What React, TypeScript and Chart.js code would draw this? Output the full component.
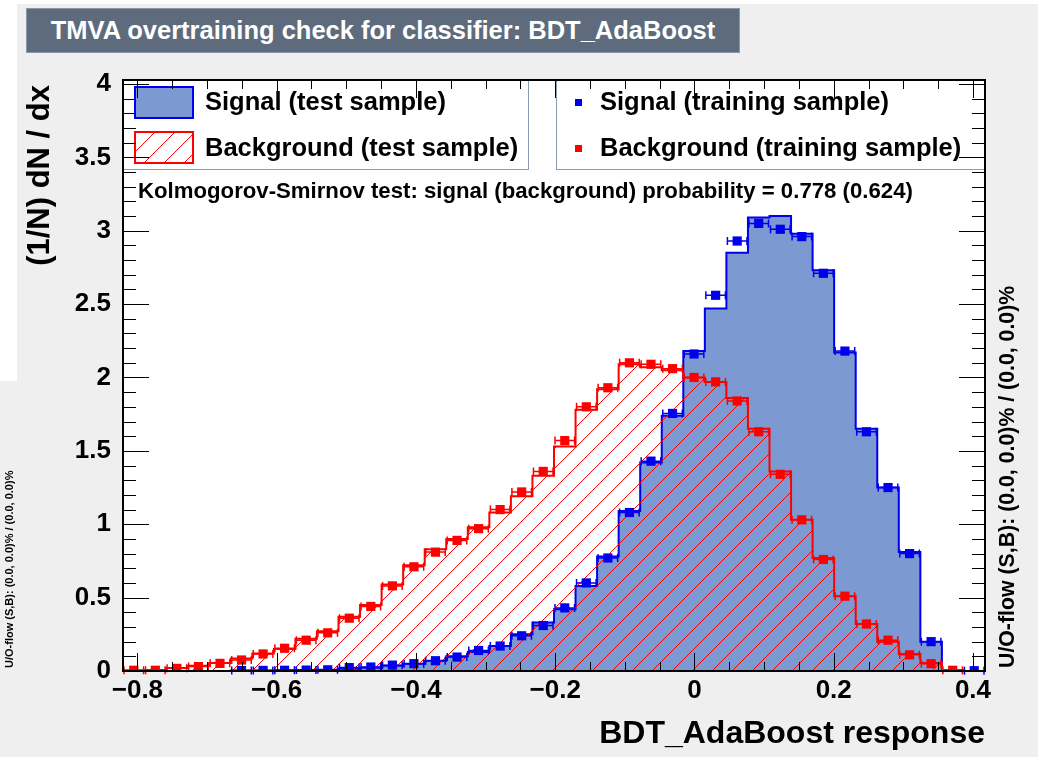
import React, { useEffect, useRef } from "react";
import { Chart, registerables } from "chart.js";

Chart.register(...registerables);

// Histogram axis definition (40 bins)
const X_MIN = -0.8207;
const X_MAX = 0.4173;
const N_BINS = 40;
const Y_MIN = 0;
const Y_MAX = 4.027;

const X_TICKS = [-0.8, -0.6, -0.4, -0.2, 0, 0.2, 0.4];
const Y_TICKS = [0, 0.5, 1, 1.5, 2, 2.5, 3, 3.5, 4];

// Signal (test sample) – filled histogram
const signalTest = [
  0, 0, 0, 0, 0, 0.003, 0.004, 0.005, 0.007, 0.009,
  0.015, 0.022, 0.035, 0.05, 0.07, 0.1, 0.13, 0.17, 0.25, 0.33,
  0.42, 0.58, 0.78, 1.09, 1.42, 1.74, 2.18, 2.47, 2.85, 3.09,
  3.1, 2.98, 2.73, 2.17, 1.65, 1.25, 0.81, 0.2, 0, 0,
];

// Background (test sample) – hatched histogram
const backgroundTest = [
  0.004, 0.006, 0.02, 0.035, 0.055, 0.085, 0.12, 0.15, 0.22, 0.27,
  0.37, 0.45, 0.59, 0.72, 0.83, 0.9, 0.98, 1.08, 1.19, 1.33,
  1.53, 1.78, 1.92, 2.09, 2.07, 2.05, 2.0, 1.97, 1.86, 1.65,
  1.36, 1.03, 0.77, 0.51, 0.32, 0.2, 0.115, 0.055, 0.006, 0,
];

// Signal (training sample) – points
const signalTrain: (number | null)[] = [
  null, null, null, null, null, 0.003, 0.004, 0.005, 0.006, 0.008,
  0.023, 0.027, 0.04, 0.05, 0.07, 0.095, 0.14, 0.17, 0.24, 0.31,
  0.43, 0.6, 0.77, 1.08, 1.43, 1.755, 2.16, 2.56, 2.93, 3.05,
  3.01, 2.96, 2.71, 2.18, 1.63, 1.25, 0.8, 0.2, null, 0.002,
];

// Background (training sample) – points
const backgroundTrain: (number | null)[] = [
  0.005, 0.005, 0.018, 0.03, 0.052, 0.075, 0.116, 0.155, 0.21, 0.26,
  0.36, 0.44, 0.58, 0.71, 0.81, 0.89, 0.97, 1.1, 1.22, 1.36,
  1.57, 1.8, 1.93, 2.1, 2.09, 2.06, 2.0, 1.97, 1.84, 1.63,
  1.34, 1.03, 0.76, 0.51, 0.32, 0.21, 0.11, 0.05, 0.005, null,
];

const SIG_FILL = "#7d99d1";
const SIG_LINE = "#0000ee";
const BKG_LINE = "#ff0000";
const FONT = "'Liberation Sans', Arial, Helvetica, sans-serif";
const HATCH_STEP = 20;

const edge = (i: number) => X_MIN + ((X_MAX - X_MIN) * i) / N_BINS;
const center = (i: number) => X_MIN + ((X_MAX - X_MIN) * (i + 0.5)) / N_BINS;

function stepPoints(vals: number[]) {
  const pts: { x: number; y: number }[] = [{ x: edge(0), y: 0 }];
  vals.forEach((v, i) => {
    pts.push({ x: edge(i), y: v });
    pts.push({ x: edge(i + 1), y: v });
  });
  pts.push({ x: edge(N_BINS), y: 0 });
  return pts;
}

function markerPoints(vals: (number | null)[]) {
  const pts: { x: number; y: number }[] = [];
  vals.forEach((v, i) => {
    if (v !== null) pts.push({ x: center(i), y: v });
  });
  return pts;
}

function hatchLines(ctx: CanvasRenderingContext2D, l: number, t: number, r: number, b: number) {
  const h = b - t;
  ctx.save();
  ctx.strokeStyle = BKG_LINE;
  ctx.lineWidth = 1;
  ctx.beginPath();
  for (let k = -h - HATCH_STEP; k <= r - l + HATCH_STEP; k += HATCH_STEP) {
    ctx.moveTo(l + k, b);
    ctx.lineTo(l + k + h, t);
  }
  ctx.stroke();
  ctx.restore();
}

const fmt = (v: number) => {
  if (Math.abs(v) < 1e-9) return "0";
  const s = String(Math.round(Math.abs(v) * 100) / 100);
  return (v < 0 ? "\u2212" : "") + s;
};

export default function App() {
  const ref = useRef<HTMLCanvasElement | null>(null);

  useEffect(() => {
    const canvas = ref.current;
    if (!canvas) return;

    const decor = {
      id: "rootDecor",
      beforeDraw(chart: any) {
        const { ctx, chartArea: a } = chart;
        ctx.save();
        ctx.fillStyle = "#ffffff";
        ctx.fillRect(a.left, a.top, a.right - a.left, a.bottom - a.top);
        ctx.restore();
      },
      beforeDatasetDraw(chart: any, args: any) {
        // hatch fill for background (test sample), drawn just before its outline
        if (args.index !== 1) return;
        const { ctx, chartArea: a, scales } = chart;
        const xs = scales.x;
        const ys = scales.y;
        const pts = stepPoints(backgroundTest);
        ctx.save();
        ctx.beginPath();
        ctx.rect(a.left, a.top, a.right - a.left, a.bottom - a.top);
        ctx.clip();
        ctx.beginPath();
        pts.forEach((p, i) => {
          const px = xs.getPixelForValue(p.x);
          const py = ys.getPixelForValue(p.y);
          if (i === 0) ctx.moveTo(px, py);
          else ctx.lineTo(px, py);
        });
        ctx.closePath();
        ctx.clip();
        hatchLines(ctx, a.left, a.top, a.right, a.bottom);
        ctx.restore();
      },
      afterDatasetsDraw(chart: any) {
        const { ctx, chartArea: a, scales } = chart;
        const xs = scales.x;
        const ys = scales.y;
        // error bars for training samples
        const drawErr = (vals: (number | null)[], col: string) => {
          ctx.save();
          ctx.strokeStyle = col;
          ctx.lineWidth = 1.5;
          vals.forEach((v, i) => {
            if (v === null) return;
            const x0 = xs.getPixelForValue(edge(i));
            const x1 = xs.getPixelForValue(edge(i + 1));
            const py = ys.getPixelForValue(v);
            ctx.beginPath();
            ctx.moveTo(x0 + 1, py);
            ctx.lineTo(x1 - 1, py);
            ctx.moveTo(x0 + 1, py - 4);
            ctx.lineTo(x0 + 1, py + 4);
            ctx.moveTo(x1 - 1, py - 4);
            ctx.lineTo(x1 - 1, py + 4);
            ctx.stroke();
          });
          ctx.restore();
        };
        drawErr(signalTrain, SIG_LINE);
        drawErr(backgroundTrain, BKG_LINE);

        // legend boxes
        ctx.save();
        ctx.fillStyle = "#ffffff";
        ctx.strokeStyle = "#8d9cb4";
        ctx.lineWidth = 1;
        const lx0 = a.left, lx1 = 528, ly0 = a.top, ly1 = 169;
        ctx.fillRect(lx0, ly0, lx1 - lx0, ly1 - ly0);
        ctx.strokeRect(lx0 + 0.5, ly0 + 0.5, lx1 - lx0, ly1 - ly0);
        const rx0 = 556, rx1 = a.right;
        ctx.fillRect(rx0, ly0, rx1 - rx0, ly1 - ly0);
        ctx.strokeRect(rx0 + 0.5, ly0 + 0.5, rx1 - rx0, ly1 - ly0);

        // swatches
        ctx.fillStyle = SIG_FILL;
        ctx.fillRect(135, 87, 58, 31);
        ctx.strokeStyle = SIG_LINE;
        ctx.lineWidth = 2;
        ctx.strokeRect(135, 87, 58, 31);
        ctx.save();
        ctx.beginPath();
        ctx.rect(135, 132, 58, 31);
        ctx.clip();
        hatchLines(ctx, 135, 132, 193, 163);
        ctx.restore();
        ctx.strokeStyle = BKG_LINE;
        ctx.lineWidth = 2;
        ctx.strokeRect(135, 132, 58, 31);

        ctx.fillStyle = SIG_LINE;
        ctx.fillRect(575, 99, 7, 7);
        ctx.fillStyle = BKG_LINE;
        ctx.fillRect(575, 145, 7, 7);

        ctx.fillStyle = "#000000";
        ctx.font = `bold 25.5px ${FONT}`;
        ctx.textAlign = "left";
        ctx.textBaseline = "middle";
        ctx.fillText("Signal (test sample)", 205, 103);
        ctx.fillText("Background (test sample)", 205, 149);
        ctx.fillText("Signal (training sample)", 600, 103);
        ctx.fillText("Background (training sample)", 600, 149);

        ctx.font = `bold 22.2px ${FONT}`;
        ctx.fillText(
          "Kolmogorov-Smirnov test: signal (background) probability = 0.778 (0.624)",
          138,
          192
        );
        ctx.restore();
      },
      afterDraw(chart: any) {
        const { ctx, chartArea: a, scales } = chart;
        const xs = scales.x;
        const ys = scales.y;
        ctx.save();
        ctx.strokeStyle = "#000000";
        ctx.lineWidth = 1;
        ctx.beginPath();
        // x ticks: minor every 0.05, major at labelled ticks
        for (let k = -20; k <= 10; k++) {
          const v = k * 0.05;
          if (v < X_MIN || v > X_MAX) continue;
          const major = X_TICKS.some((t) => Math.abs(t - v) < 1e-6);
          const len = major ? 18 : 9;
          const px = Math.round(xs.getPixelForValue(v)) + 0.5;
          ctx.moveTo(px, a.bottom);
          ctx.lineTo(px, a.bottom - len);
          ctx.moveTo(px, a.top);
          ctx.lineTo(px, a.top + len);
        }
        for (let k = 0; k <= 40; k++) {
          const v = k * 0.1;
          if (v > Y_MAX) continue;
          const major = Y_TICKS.some((t) => Math.abs(t - v) < 1e-6);
          const len = major ? 26 : 13;
          const py = Math.round(ys.getPixelForValue(v)) + 0.5;
          ctx.moveTo(a.left, py);
          ctx.lineTo(a.left + len, py);
          ctx.moveTo(a.right, py);
          ctx.lineTo(a.right - len, py);
        }
        ctx.stroke();
        ctx.lineWidth = 2;
        ctx.strokeRect(a.left, a.top, a.right - a.left, a.bottom - a.top);

        // axis titles
        ctx.fillStyle = "#000000";
        ctx.font = `bold 32px ${FONT}`;
        ctx.textAlign = "right";
        ctx.textBaseline = "middle";
        ctx.fillText("BDT_AdaBoost response", a.right, 734);

        ctx.save();
        ctx.font = `bold 31px ${FONT}`;
        ctx.translate(40, 85);
        ctx.rotate(-Math.PI / 2);
        ctx.textAlign = "right";
        ctx.fillText("(1/N) dN / dx", 0, 0);
        ctx.restore();

        ctx.save();
        ctx.font = `bold 21.3px ${FONT}`;
        ctx.translate(1008, 668);
        ctx.rotate(-Math.PI / 2);
        ctx.textAlign = "left";
        ctx.fillText("U/O-flow (S,B): (0.0, 0.0)% / (0.0, 0.0)%", 0, 0);
        ctx.restore();

        ctx.save();
        ctx.font = `bold 11px ${FONT}`;
        ctx.translate(10, 668);
        ctx.rotate(-Math.PI / 2);
        ctx.textAlign = "left";
        ctx.fillText("U/O-flow (S,B): (0.0, 0.0)% / (0.0, 0.0)%", 0, 0);
        ctx.restore();
        ctx.restore();
      },
    };

    const chart = new Chart(canvas, {
      type: "scatter",
      data: {
        datasets: [
          {
            type: "line",
            label: "Signal (test sample)",
            data: stepPoints(signalTest),
            borderColor: SIG_LINE,
            backgroundColor: SIG_FILL,
            borderWidth: 2,
            fill: "origin",
            pointRadius: 0,
            tension: 0,
            order: 4,
          } as any,
          {
            type: "line",
            label: "Background (test sample)",
            data: stepPoints(backgroundTest),
            borderColor: BKG_LINE,
            backgroundColor: "rgba(0,0,0,0)",
            borderWidth: 2,
            fill: false,
            pointRadius: 0,
            tension: 0,
            order: 3,
          } as any,
          {
            label: "Signal (training sample)",
            data: markerPoints(signalTrain),
            pointStyle: "rect",
            pointRadius: 6.5,
            backgroundColor: SIG_LINE,
            borderColor: SIG_LINE,
            borderWidth: 0,
            order: 2,
          },
          {
            label: "Background (training sample)",
            data: markerPoints(backgroundTrain),
            pointStyle: "rect",
            pointRadius: 6.5,
            backgroundColor: BKG_LINE,
            borderColor: BKG_LINE,
            borderWidth: 0,
            order: 1,
          },
        ],
      },
      options: {
        animation: false,
        responsive: false,
        maintainAspectRatio: false,
        devicePixelRatio: 1,
        layout: { padding: { left: 0, top: 80, right: 53, bottom: 0 } },
        plugins: {
          legend: { display: false },
          tooltip: { enabled: false },
          title: { display: false },
        },
        scales: {
          x: {
            type: "linear",
            min: X_MIN,
            max: X_MAX,
            grid: { display: false, drawTicks: false },
            border: { display: false },
            afterBuildTicks: (s: any) => {
              s.ticks = X_TICKS.map((v) => ({ value: v }));
            },
            afterFit: (s: any) => {
              s.height = 86;
            },
            ticks: {
              callback: (v: any) => fmt(Number(v)),
              color: "#000000",
              font: { family: FONT, size: 26, weight: "bold" },
              padding: 4,
              maxRotation: 0,
              autoSkip: false,
            },
          },
          y: {
            type: "linear",
            min: Y_MIN,
            max: Y_MAX,
            grid: { display: false, drawTicks: false },
            border: { display: false },
            afterBuildTicks: (s: any) => {
              s.ticks = Y_TICKS.map((v) => ({ value: v }));
            },
            afterFit: (s: any) => {
              s.width = 123;
            },
            ticks: {
              callback: (v: any) => fmt(Number(v)),
              color: "#000000",
              font: { family: FONT, size: 26, weight: "bold" },
              padding: 12,
              autoSkip: false,
            },
          },
        },
      },
      plugins: [decor],
    });

    return () => {
      chart.destroy();
    };
  }, []);

  return (
    <div
      style={{
        position: "absolute",
        left: 0,
        top: 0,
        width: 1038,
        height: 757,
        background: "#ffffff",
        overflow: "hidden",
      }}
    >
      <div
        style={{
          position: "absolute",
          left: 17,
          top: 4,
          right: 0,
          bottom: 0,
          background: "#efefef",
        }}
      />
      <div
        style={{
          position: "absolute",
          left: 0,
          top: 381,
          width: 17,
          bottom: 0,
          background: "#efefef",
        }}
      />
      <div
        style={{
          position: "absolute",
          left: 26,
          top: 8,
          width: 714,
          height: 45,
          background: "#5d6b7d",
          color: "#ffffff",
          fontFamily: FONT,
          fontWeight: "bold",
          fontSize: 25.5,
          display: "flex",
          alignItems: "center",
          justifyContent: "center",
          boxSizing: "border-box",
          border: "1px solid #8a97a8",
        }}
      >
        TMVA overtraining check for classifier: BDT_AdaBoost
      </div>
      <canvas
        ref={ref}
        width={1038}
        height={757}
        style={{ position: "absolute", left: 0, top: 0, width: 1038, height: 757 }}
      />
    </div>
  );
}
